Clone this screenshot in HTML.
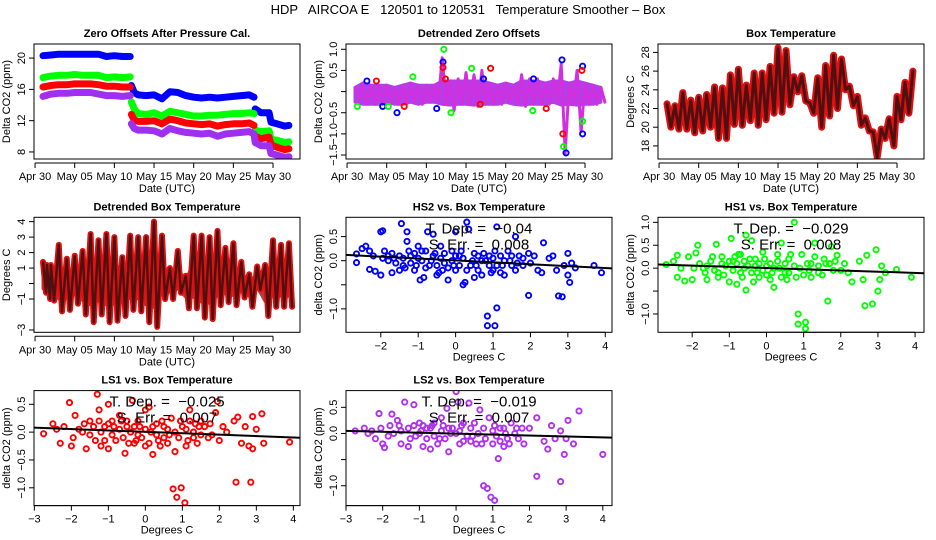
<!DOCTYPE html>
<html><head><meta charset="utf-8"><style>
html,body{margin:0;padding:0;background:#fff;}
svg{display:block;font-family:"Liberation Sans",sans-serif;}
</style></head><body>
<svg id="fig" width="936" height="540" viewBox="0 0 936 540" xmlns="http://www.w3.org/2000/svg">
<text x="468" y="14" text-anchor="middle" font-size="13" style="white-space:pre">HDP   AIRCOA E   120501 to 120531   Temperature Smoother – Box</text>
</svg>
<script>
// ---------- data ----------
const dateTicks = ["Apr 30","May 05","May 10","May 15","May 20","May 25","May 30"];
const dateTickDays = [0,5,10,15,20,25,30];
const offDays = [1,2,3,4,5,6,7,8,9,10,11,12,12.15,12.5,13,14,15,16,17,18,19,20,21,22,23,24,25,26,27,27.6,27.75,28.5,29.5,29.75,30.5,31.5,32];
const offBlue = [20.3,20.4,20.5,20.5,20.5,20.5,20.5,20.5,20.2,20.3,20.2,20.2,16.5,15.6,15.3,15.2,15.3,14.8,15.7,15.6,15.2,15.0,14.9,15.0,14.9,15.0,15.1,15.2,15.3,15.0,13.5,13.0,13.0,11.8,11.6,11.3,11.4];
const offGreen = [17.5,17.7,17.8,17.8,17.9,17.8,17.8,17.8,17.5,17.6,17.5,17.6,14.4,13.5,12.9,12.8,13.0,12.6,13.2,13.0,12.8,12.6,12.6,12.7,12.7,12.8,12.9,12.9,13.0,12.9,10.8,10.6,10.7,9.6,9.5,9.2,9.3];
const offRed = [16.3,16.5,16.6,16.6,16.7,16.7,16.7,16.6,16.4,16.4,16.3,16.3,12.8,12.1,11.9,11.9,12.0,11.6,12.2,12.0,11.7,11.6,11.5,11.6,11.3,11.5,11.6,11.6,11.7,11.4,10.0,9.7,9.9,8.9,8.6,8.3,8.4];
const offPurple = [15.1,15.4,15.5,15.5,15.6,15.6,15.6,15.4,15.2,15.2,15.1,15.2,11.6,11.0,10.8,10.8,10.7,10.3,11.0,10.7,10.5,10.4,10.3,10.4,10.0,10.3,10.4,10.5,10.6,10.3,9.2,8.8,8.8,7.8,7.6,7.3,7.4];
const offYTicks = [8,12,16,20];

const dzHi = [0.1,0.2,0.15,0.15,0.15,0.1,0.15,0.2,0.15,0.15,0.15,0.8,0.25,0.3,0.45,0.4,0.5,0.2,0.15,0.2,0.15,0.4,0.3,0.3,0.2,0.3,0.65,0.2,0.5,0.2,0.15,0.1];
const dzLo = [-0.25,-0.3,-0.3,-0.3,-0.25,-0.3,-0.3,-0.25,-0.3,-0.25,-0.25,-0.3,-0.45,-0.3,-0.3,-0.35,-0.3,-0.3,-0.3,-0.25,-0.3,-0.35,-0.3,-0.3,-0.3,-0.25,-1.45,-0.3,-0.95,-0.3,-0.3,-0.25];
const dzBlueOut = [[2.5,0.25],[6.3,-0.5],[11.3,-0.4],[12.1,0.7],[27.1,0.75],[27.6,-1.45],[29.7,0.6],[29.7,-1.0],[23.5,0.3],[4.5,-0.35],[17.2,0.3]];
const dzRedOut = [[3.7,0.25],[12.1,0.57],[12.4,0.3],[18.1,0.55],[25.1,-0.4],[29.6,0.5],[27.2,-1.0],[7.2,-0.35],[16.8,-0.3]];
const dzGreenOut = [[12.2,1.0],[8.3,0.35],[13.1,-0.5],[15.7,0.55],[29.7,-0.7],[23.4,-0.45],[27.3,-1.3],[1.3,-0.35],[5.2,-0.35]];
const dzYTicks = [-1.5,-1.0,-0.5,0.0,0.5,1.0];
const dzYLabels = ["−1.5","−1.0","−0.5","","0.5","1.0"];

const btDays = [1,1.5,2,2.5,3,3.5,4,4.5,5,5.5,6,6.5,7,7.5,8,8.5,9,9.5,10,10.5,11,11.5,12,12.5,13,13.5,14,14.5,15,15.5,16,16.5,17,17.5,18,18.5,19,19.5,20,20.5,21,21.5,22,22.5,23,23.5,24,24.5,25,25.5,26,26.5,27,27.5,28,28.5,29,29.6,30,30.5,31,31.5,32];
const btVals = [22.5,20.0,22.3,19.8,23.7,19.8,22.9,19.4,23.2,19.6,23.5,20.0,24.3,18.8,24.2,18.8,25.6,20.3,26.2,20.2,24.5,20.7,25.8,20.2,25.8,20.8,26.5,21.5,28.5,21.6,28.2,22.4,25.4,23.8,25.5,22.8,22.6,21.5,25.3,20.0,26.6,21.2,27.7,22.0,27.3,24.0,24.4,22.3,23.3,20.2,21.0,19.6,19.5,16.8,19.8,18.8,20.9,18.0,23.3,20.8,24.8,21.5,26.0];
const btYTicks = [18,20,22,24,26,28];

const dbHi = [1.4,1.2,1.2,2.5,1.6,1.8,2.1,3.2,2.8,3.2,3.0,1.7,3.1,3.0,3.0,4.0,3.1,1.0,2.1,0.5,3.1,3.1,3.0,3.4,2.3,2.6,1.4,0.6,1.1,1.2,2.8,2.5,2.6];
const dbLo = [-0.6,-1.0,-1.1,-1.8,-1.7,-1.3,-2.0,-2.5,-2.0,-2.5,-2.4,-2.1,-1.7,-1.8,-2.5,-2.8,-1.0,-1.0,-0.6,-1.6,-1.6,-2.2,-2.3,-1.4,-1.2,-1.4,-0.9,-1.5,-0.4,-2.1,-1.5,-1.5,-1.5];
const dbDays = [1,1.5,2,3,4,5,6,7,8,9,10,11,12,13,14,15,16,17,18,19,20,21,22,23,24,25,26,27,28,29,30,31,32];
const dbYTicks = [-3,-1,0,1,2,3,4];
const dbYLabels = ["−3","−1","","1","2","3","4"];

const hs2Pts = [[-2.65,0.14],[-2.65,-0.04],[-2.5,0.25],[-2.4,0.3],[-2.3,0.2],[-2.3,-0.18],[-2.2,0.1],[-2.15,-0.22],[-2.0,0.6],[-1.95,0.62],[-2.0,-0.3],[-1.9,0.2],[-1.8,0.0],[-1.7,0.15],[-1.7,-0.25],[-1.5,0.1],[-1.45,0.77],[-1.4,-0.1],[-1.3,0.4],[-1.3,0.6],[-1.2,0.1],[-1.1,-0.2],[-1.0,0.05],[-1.0,0.3],[-0.95,-0.4],[-0.85,-0.35],[-0.8,0.2],[-0.75,0.6],[-0.7,-0.1],[-0.6,0.55],[-0.55,0.15],[-0.5,-0.3],[-0.4,0.3],[-0.3,-0.05],[-0.2,-0.4],[-0.1,0.2],[0.0,0.6],[0.0,-0.2],[0.1,0.1],[0.2,-0.5],[0.25,-0.45],[0.3,0.8],[0.35,0.65],[0.4,-0.1],[0.5,0.15],[0.5,-0.35],[0.7,-0.3],[0.8,0.0],[0.85,-1.15],[0.85,-1.35],[0.9,0.1],[1.0,-0.2],[1.05,-1.35],[1.1,0.7],[1.1,-0.98],[1.2,0.1],[1.3,-0.3],[1.4,0.2],[1.5,-0.1],[1.6,0.5],[1.7,0.1],[1.8,-0.1],[1.95,0.15],[1.95,-0.72],[2.0,-0.05],[2.2,-0.2],[2.3,-0.25],[2.35,0.37],[2.5,0.05],[2.7,-0.2],[2.75,-0.73],[2.85,-0.75],[2.9,-0.1],[3.0,0.15],[3.05,-0.45],[3.0,-0.3],[3.2,-0.15],[3.7,-0.1],[3.9,-0.25],[-1.8,0.1],[-1.6,-0.05],[-1.4,0.05],[-1.2,-0.05],[-1.1,0.15],[-0.9,0.0],[-0.8,-0.15],[-0.6,0.1],[-0.5,-0.1],[-0.4,0.05],[-0.3,0.15],[-0.2,-0.15],[-0.1,0.0],[0.1,-0.1],[0.2,0.05],[0.3,-0.2],[0.6,0.1],[0.7,0.0],[0.9,-0.1],[1.0,0.05],[1.1,-0.1],[1.3,0.0],[1.5,0.1],[1.6,-0.2],[1.8,0.05],[-1.5,-0.2],[-0.9,0.2],[0.0,0.1],[0.6,-0.2],[1.2,-0.25],[2.1,0.1],[2.6,0.1],[3.1,-0.05],[-1.65,0.05],[-1.35,-0.15],[-1.05,-0.1],[-0.65,0.0],[-0.35,-0.2],[-0.05,-0.1],[0.15,0.2],[0.45,0.0],[0.75,0.15],[0.95,-0.25],[1.25,-0.1],[1.45,0.0],[1.65,-0.05],[-1.95,0.05],[-1.25,0.2],[-0.45,-0.25],[0.55,-0.1],[1.05,0.2]];
const hs1Pts = [[-2.7,0.08],[-2.5,0.15],[-2.4,0.28],[-2.4,-0.2],[-2.2,-0.28],[-2.1,0.25],[-2.0,-0.25],[-1.9,0.33],[-1.85,0.5],[-1.7,0.0],[-1.6,-0.25],[-1.5,0.15],[-1.35,0.52],[-1.3,-0.2],[-1.2,0.25],[-1.1,0.05],[-1.0,-0.3],[-0.95,0.65],[-0.9,0.15],[-0.8,-0.35],[-0.7,0.3],[-0.6,0.0],[-0.55,0.72],[-0.55,-0.48],[-0.4,0.6],[-0.3,0.2],[-0.2,-0.2],[-0.1,0.35],[0.0,0.05],[0.1,-0.25],[0.2,-0.42],[0.3,0.15],[0.4,0.55],[0.5,-0.1],[0.6,0.2],[0.75,1.0],[0.8,-0.2],[0.85,-1.0],[0.85,-1.22],[0.95,0.3],[1.05,-1.18],[1.05,-1.32],[1.1,0.1],[1.2,-0.2],[1.3,0.55],[1.4,0.05],[1.5,-0.15],[1.65,-0.72],[1.7,0.1],[1.75,0.47],[1.9,0.28],[2.0,-0.05],[2.2,-0.1],[2.3,-0.3],[2.5,0.15],[2.6,-0.25],[2.65,-0.82],[2.7,0.28],[2.85,-0.78],[2.95,0.4],[3.0,-0.5],[3.05,-0.25],[3.1,0.05],[3.2,-0.1],[3.5,-0.03],[3.9,-0.2],[-1.8,0.1],[-1.6,0.05],[-1.4,-0.05],[-1.2,0.1],[-1.0,0.15],[-0.9,-0.05],[-0.8,0.1],[-0.7,-0.1],[-0.6,0.15],[-0.5,0.05],[-0.4,-0.1],[-0.3,0.05],[-0.2,0.1],[-0.1,-0.05],[0.0,-0.15],[0.1,0.1],[0.2,0.0],[0.4,-0.2],[0.6,-0.1],[0.9,0.0],[1.0,-0.15],[1.2,0.1],[1.4,-0.1],[1.6,0.1],[1.8,-0.05],[2.1,0.1],[-2.3,0.0],[-0.75,0.3],[0.3,0.3],[1.3,0.25],[-1.3,-0.1],[0.5,0.1],[-1.65,-0.1],[-1.15,-0.15],[-0.85,0.25],[-0.65,-0.2],[-0.45,0.2],[-0.25,-0.1],[-0.05,0.2],[0.15,-0.1],[0.35,0.0],[0.55,-0.25],[0.75,0.05],[1.15,-0.05],[1.55,0.2],[-1.95,0.0],[-1.45,0.25],[-0.35,-0.3],[0.65,0.3],[1.85,0.15]];
const ls1Pts = [[-2.75,-0.03],[-2.5,0.15],[-2.3,-0.2],[-2.2,0.1],[-2.05,0.53],[-2.0,-0.25],[-1.9,0.3],[-1.7,0.0],[-1.6,-0.3],[-1.5,0.2],[-1.3,0.68],[-1.25,0.4],[-1.2,-0.25],[-1.1,0.1],[-1.0,0.5],[-1.0,-0.3],[-0.9,0.2],[-0.8,-0.15],[-0.7,0.3],[-0.55,-0.38],[-0.5,0.1],[-0.35,0.57],[-0.3,-0.2],[-0.2,0.2],[-0.1,-0.1],[0.0,0.4],[0.1,0.45],[0.1,-0.2],[0.2,-0.4],[0.3,0.15],[0.4,-0.25],[0.5,0.1],[0.6,-0.2],[0.7,0.25],[0.75,-1.02],[0.8,-0.35],[0.85,-1.17],[0.97,-1.0],[1.0,0.1],[1.07,-1.27],[1.1,-0.25],[1.2,0.4],[1.3,0.0],[1.4,-0.2],[1.5,0.2],[1.7,-0.1],[1.9,0.35],[1.95,0.55],[2.0,-0.15],[2.2,0.0],[2.4,0.2],[2.45,-0.9],[2.5,0.27],[2.6,-0.2],[2.8,-0.25],[2.85,-0.9],[2.9,0.28],[2.9,-0.3],[3.0,0.05],[3.15,0.33],[3.2,-0.2],[3.9,-0.18],[-1.8,0.05],[-1.5,-0.05],[-1.4,0.1],[-1.2,0.0],[-1.0,0.15],[-0.9,-0.05],[-0.7,0.05],[-0.6,-0.1],[-0.5,0.2],[-0.4,0.0],[-0.3,0.1],[-0.2,-0.05],[0.0,0.05],[0.2,0.1],[0.3,-0.05],[0.5,-0.1],[0.6,0.05],[0.8,0.0],[0.9,-0.1],[1.1,0.05],[1.3,-0.1],[1.5,-0.05],[1.6,0.1],[1.8,-0.05],[2.1,0.1],[-2.4,0.05],[-1.1,-0.15],[0.0,-0.25],[1.2,0.2],[2.7,0.1],[-1.65,0.15],[-1.35,-0.15],[-0.85,0.1],[-0.65,0.2],[-0.45,-0.2],[-0.15,0.1],[0.15,0.0],[0.45,0.2],[0.65,-0.05],[0.95,0.2],[1.15,-0.15],[1.45,0.1],[1.75,0.15],[-1.95,-0.1],[-1.25,0.2],[-0.25,-0.15],[0.35,-0.15],[1.35,0.15]];
const ls2Pts = [[-2.75,0.05],[-2.5,0.1],[-2.4,0.0],[-2.2,-0.1],[-2.1,0.38],[-2.0,-0.2],[-1.95,-0.27],[-1.8,0.15],[-1.75,0.37],[-1.6,0.25],[-1.5,-0.2],[-1.4,0.6],[-1.3,-0.25],[-1.15,0.55],[-1.0,0.2],[-0.9,-0.25],[-0.8,0.1],[-0.7,-0.3],[-0.6,0.2],[-0.5,-0.2],[-0.4,0.3],[-0.25,0.48],[-0.2,-0.35],[-0.1,0.1],[0.0,0.8],[0.05,0.6],[0.1,-0.2],[0.2,0.2],[0.35,0.58],[0.4,-0.15],[0.5,0.2],[0.65,0.45],[0.7,-0.2],[0.75,-1.0],[0.85,-1.05],[0.9,0.3],[0.95,-1.22],[1.0,-0.2],[1.05,-1.28],[1.15,-0.48],[1.2,0.1],[1.3,-0.25],[1.5,0.2],[1.7,-0.1],[1.85,-0.2],[2.0,0.1],[2.2,-0.82],[2.2,0.3],[2.4,-0.15],[2.5,-0.3],[2.6,0.15],[2.7,-0.1],[2.85,-0.92],[2.85,0.05],[2.95,-0.4],[3.0,-0.1],[3.05,0.25],[3.2,-0.2],[3.35,0.43],[4.0,-0.4],[-1.7,0.0],[-1.5,0.05],[-1.3,0.1],[-1.1,-0.05],[-1.0,0.0],[-0.8,-0.1],[-0.7,0.1],[-0.6,-0.05],[-0.4,0.05],[-0.3,-0.1],[-0.2,0.1],[0.0,0.0],[0.1,0.05],[0.3,-0.05],[0.4,0.1],[0.6,0.0],[0.8,-0.1],[1.0,0.05],[1.1,-0.05],[1.3,0.1],[1.4,-0.1],[1.6,0.0],[1.8,0.1],[-2.3,0.05],[-0.9,0.15],[0.2,-0.15],[1.2,-0.15],[-1.85,-0.05],[-1.55,0.15],[-1.25,-0.1],[-0.95,0.05],[-0.65,0.15],[-0.45,-0.1],[-0.15,0.0],[0.15,0.15],[0.45,-0.05],[0.75,0.1],[1.05,0.15],[1.35,0.0],[1.65,0.1],[-2.05,0.1],[-1.15,0.15],[-0.35,0.15],[0.55,-0.2],[1.45,-0.2]];
const scatterXTicksA = [-2,-1,0,1,2,3,4];
const scatterXTicksB = [-3,-2,-1,0,1,2,3,4];
const hs2Fit = [0.12,-0.16];
const hs1Fit = [0.08,-0.11];
const ls1Fit = [0.08,-0.10];
const ls2Fit = [0.05,-0.08];

// ---------- helpers ----------
const NS="http://www.w3.org/2000/svg";
const svg=document.getElementById('fig');
function mk(tag,attrs,parent){const e=document.createElementNS(NS,tag);for(const k in attrs)e.setAttribute(k,attrs[k]);(parent||svg).appendChild(e);return e;}
function txt(s,attrs,parent){const e=mk('text',attrs,parent);e.textContent=s;return e;}

function makePanel(name,left,top,xd,yd,title){
  const W=266,H=115;
  const g=mk('g',{});
  
  
  const sx=v=>left+(v-xd[0])/(xd[1]-xd[0])*W;
  const sy=v=>top+H-(v-yd[0])/(yd[1]-yd[0])*H;
  const clip='clip-'+name;
  const cp=mk('clipPath',{id:clip},g);mk('rect',{x:left,y:top,width:W,height:H},cp);
  const plot=mk('g',{'clip-path':'url(#'+clip+')'},g);
  
  
  const t=txt(title,{x:left+W/2,y:top-7,'text-anchor':'middle','font-size':11,'font-weight':'bold'},g);
  
  
  return {g,plot,sx,sy,left,top,W,H};
}
function frame(p){const r=mk('rect',{x:p.left,y:p.top,width:p.W,height:p.H,fill:'none',stroke:'#000','stroke-width':1},p.g);
  
  }
function yAxis(p,ticks,labels,title){
  const ax=mk('g',{},p.g);
  
  
  ticks.forEach((v,i)=>{const y=p.sy(v);
    mk('line',{x1:p.left-5,x2:p.left,y1:y,y2:y,stroke:'#000'},ax);
    const lab=labels?labels[i]:String(v);
    if(lab!==''){const t=txt(lab,{x:p.left-9,y:y,'text-anchor':'middle','font-size':11,transform:`rotate(-90 ${p.left-9} ${y})`},ax);
    
    }
  });
  mk('line',{x1:p.left,x2:p.left,y1:p.sy(ticks[0]),y2:p.sy(ticks[ticks.length-1]),stroke:'#000'},ax);
  const cx=p.left-24,cy=p.top+p.H/2;
  const t=txt(title,{x:cx,y:cy,'text-anchor':'middle','font-size':11,transform:`rotate(-90 ${cx} ${cy})`},ax);
  
  
}
function xAxis(p,ticks,labels,title,off,titleOff){
  const ax=mk('g',{},p.g);
  
  
  const y0=p.top+p.H+off;
  mk('line',{x1:p.sx(ticks[0]),x2:p.sx(ticks[ticks.length-1]),y1:y0,y2:y0,stroke:'#000'},ax);
  ticks.forEach((v,i)=>{const x=p.sx(v);
    mk('line',{x1:x,x2:x,y1:y0,y2:y0+5,stroke:'#000'},ax);
    const t=txt(labels[i],{x:x,y:y0+17,'text-anchor':'middle','font-size':11},ax);
    
    
  });
  const t=txt(title,{x:p.left+p.W/2,y:p.top+p.H+titleOff,'text-anchor':'middle','font-size':11},ax);
  
  
}
function poly(p,xs,ys,color,w,name){
  const pts=xs.map((x,i)=>p.sx(x).toFixed(1)+','+p.sy(ys[i]).toFixed(1)).join(' ');
  const e=mk('polyline',{points:pts,fill:'none',stroke:color,'stroke-width':w,'stroke-linejoin':'round','stroke-linecap':'round'},p.plot);
  
  
}
function band(p,xs,hi,lo,fill,name){
  const up=xs.map((x,i)=>p.sx(x).toFixed(1)+','+p.sy(hi[i]).toFixed(1));
  const dn=xs.map((x,i)=>p.sx(x).toFixed(1)+','+p.sy(lo[i]).toFixed(1)).reverse();
  const e=mk('polygon',{points:up.concat(dn).join(' '),fill:fill,stroke:fill,'stroke-width':3,'stroke-linejoin':'round'},p.plot);
  
  
}
function stepSeries(p,xs,ys,color,name){
  let segX=[xs[0]],segY=[ys[0]];
  for(let i=1;i<xs.length;i++){
    if(Math.abs(ys[i]-ys[i-1])>1.2){poly(p,segX,segY,color,7,name);segX=[];segY=[];}
    segX.push(xs[i]);segY.push(ys[i]);
  }
  poly(p,segX,segY,color,7,name);
}
function dots(p,pts,color,name,r){
  pts.forEach(([x,y])=>{
    const c=mk('circle',{cx:p.sx(x).toFixed(1),cy:p.sy(y).toFixed(1),r:r||2.6,fill:'none',stroke:color,'stroke-width':1.9},p.plot);
    
    
  });
}
function fitLine(p,fit,xd){
  const l=mk('line',{x1:p.sx(xd[0]),y1:p.sy(fit[0]),x2:p.sx(xd[1]),y2:p.sy(fit[1]),stroke:'#000','stroke-width':2},p.plot);
  
  
}
function annot(p,dep,err){
  const a=txt('T. Dep. =  '+dep,{x:p.left+p.W/2,y:p.top+16,'text-anchor':'middle','font-size':15,style:'white-space:pre'},p.g);
  
  
  const b=txt('S. Err. =  '+err,{x:p.left+p.W/2,y:p.top+32,'text-anchor':'middle','font-size':15,style:'white-space:pre'},p.g);
  
  
}
const T=[0,173.3,346.6];
const L=[34,346,658];
const timeXD=[-0.13,33.4];

// Panel 1
{const p=makePanel('zero-offsets-panel',L[0],44+T[0],timeXD,[7.1,21.8],'Zero Offsets After Pressure Cal.');
 stepSeries(p,offDays,offBlue,'#0000ff','series-hs2');
 stepSeries(p,offDays,offGreen,'#00ff00','series-hs1');
 stepSeries(p,offDays,offRed,'#ff0000','series-ls1');
 stepSeries(p,offDays,offPurple,'#a030f0','series-ls2');
 frame(p);yAxis(p,offYTicks,null,'Delta CO2 (ppm)');xAxis(p,dateTickDays,dateTicks,'Date (UTC)',4,33);}
// Panel 2
{const p=makePanel('detrended-offsets-panel',L[1],44+T[0],timeXD,[-1.594,1.125],'Detrended Zero Offsets');
 const days=dzHi.map((v,i)=>i+1);
 const hiB=dzHi.map(v=>Math.min(v,0.25)), loB=dzLo.map(v=>Math.max(v,-0.32));
 band(p,days,hiB,loB,'#b040e8','ls2-band');
 const xs=[],ys=[];dzHi.forEach((v,i)=>{xs.push(i+1);ys.push(v);xs.push(i+1.5);ys.push(dzLo[i]);});
 poly(p,xs,ys,'#d030e0',3,'series-ls2-excursions');
 dots(p,dzBlueOut,'#0000ff','point-hs2');dots(p,dzRedOut,'#ff0000','point-ls1');dots(p,dzGreenOut,'#00ff00','point-hs1');
 frame(p);yAxis(p,dzYTicks,dzYLabels,'Delta CO2 (ppm)');xAxis(p,dateTickDays,dateTicks,'Date (UTC)',4,33);}
// Panel 3
{const p=makePanel('box-temperature-panel',L[2],44+T[0],timeXD,[16.6,28.9],'Box Temperature');
 poly(p,btDays,btVals,'#e01010',7,'box-temp-series');
 poly(p,btDays,btVals,'#501010',3,'box-temp-series-core');
 frame(p);yAxis(p,btYTicks,null,'Degrees C');xAxis(p,dateTickDays,dateTicks,'Date (UTC)',4,33);}
// Panel 4
{const p=makePanel('detrended-box-temp-panel',L[0],44+T[1],timeXD,[-3.15,4.28],'Detrended Box Temperature');
 const xs=[],ys=[];dbHi.forEach((v,i)=>{xs.push(dbDays[i]);ys.push(v);xs.push(dbDays[i]+0.4);ys.push(dbLo[i]);});
 band(p,dbDays,dbHi.map(v=>v*0.45),dbLo.map(v=>v*0.55),'#b04040','detrended-temp-core-band');
 poly(p,xs,ys,'#e01010',6,'detrended-temp-series');
 poly(p,xs,ys,'#501010',2.5,'detrended-temp-series-core');
 frame(p);yAxis(p,dbYTicks,dbYLabels,'Degrees C');xAxis(p,dateTickDays,dateTicks,'Date (UTC)',4,33);}
// scatter panels
function scatter(name,col,row,xd,yd,title,pts,color,fit,dep,err,xt,yt,yl){
  const p=makePanel(name,L[col],44+T[row],xd,yd,title);
  dots(p,pts,color,'scatter-point');
  fitLine(p,fit,xd);
  frame(p);annot(p,dep,err);
  yAxis(p,yt,yl,'delta CO2 (ppm)');
  xAxis(p,xt,xt.map(v=>v<0?'−'+(-v):String(v)),'Degrees C',0,28);
}
scatter('hs2-scatter-panel',1,1,[-2.93,4.18],[-1.486,0.90],'HS2 vs. Box Temperature',hs2Pts,'#0000ff',hs2Fit,'−0.04','0.008',scatterXTicksA,[-1.0,-0.5,0.0,0.5],['−1.0','','0.0','0.5']);
scatter('hs1-scatter-panel',2,1,[-2.92,4.24],[-1.40,1.11],'HS1 vs. Box Temperature',hs1Pts,'#00ff00',hs1Fit,'−0.029','0.008',scatterXTicksA,[-1.0,-0.5,0.0,0.5,1.0],['−1.0','','0.0','0.5','1.0']);
scatter('ls1-scatter-panel',0,2,[-3.01,4.18],[-1.32,0.746],'LS1 vs. Box Temperature',ls1Pts,'#ff0000',ls1Fit,'−0.025','0.007',scatterXTicksB,[-1.0,-0.5,0.0,0.5],['−1.0','−0.5','0.0','0.5']);
scatter('ls2-scatter-panel',1,2,[-3.0,4.25],[-1.38,0.82],'LS2 vs. Box Temperature',ls2Pts,'#b030f0',ls2Fit,'−0.019','0.007',scatterXTicksB,[-1.0,-0.5,0.0,0.5],['−1.0','','0.0','0.5']);
</script>
</body></html>
